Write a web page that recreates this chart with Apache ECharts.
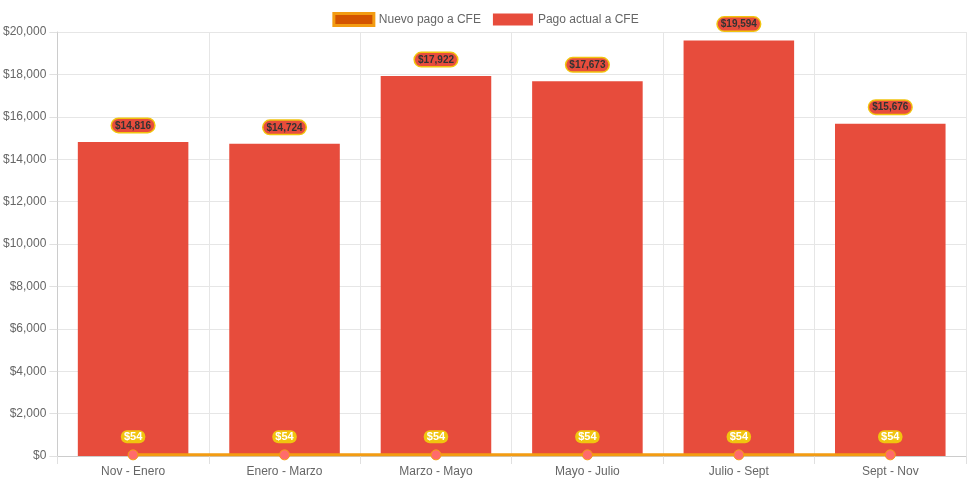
<!DOCTYPE html>
<html><head><meta charset="utf-8">
<script src="https://cdn.jsdelivr.net/npm/echarts@6/dist/echarts.min.js"></script>
<style>html,body{margin:0;padding:0;background:#fff}#c{width:971px;height:485px}</style>
</head><body><div id="c"></div>
<script>
const categories = ['Nov - Enero','Enero - Marzo','Marzo - Mayo','Mayo - Julio','Julio - Sept','Sept - Nov'];
const nuevoPago = [54,54,54,54,54,54];
const pagoActual = [14816,14724,17922,17673,19594,15676];
const seriesNames = ['Nuevo pago a CFE','Pago actual a CFE'];

const fmt = v => '$' + Number(v).toLocaleString('en-US');
const FONT = '"Liberation Sans", Arial, Helvetica, sans-serif';
const chart = echarts.init(document.getElementById('c'));
chart.setOption({
  animation:false,
  textStyle:{fontFamily:FONT},
  legend:{
    top:7, left:'center', itemWidth:40, itemHeight:12, itemGap:12,
    textStyle:{color:'#666', fontSize:12, fontFamily:FONT},
    data:[
      {name:seriesNames[0], icon:'rect', itemStyle:{color:'#d35400', borderColor:'#f39c12', borderWidth:3}},
      {name:seriesNames[1], icon:'rect', itemStyle:{color:'#e74c3c', borderWidth:0}}
    ]
  },
  grid:{left:57, right:5, top:32, bottom:29, containLabel:false},
  xAxis:{
    type:'category', data:categories, boundaryGap:true,
    axisLine:{lineStyle:{color:'#cccccc'}},
    axisTick:{show:true, length:8, alignWithLabel:false, lineStyle:{color:'#e0e0e0'}},
    axisLabel:{color:'#666', fontSize:12, margin:10, fontFamily:FONT},
    splitLine:{show:true, lineStyle:{color:'#e6e6e6'}}
  },
  yAxis:{
    type:'value', min:0, max:20000, interval:2000,
    axisLine:{show:true, lineStyle:{color:'#cccccc'}},
    axisTick:{show:true, length:8, lineStyle:{color:'#e0e0e0'}},
    axisLabel:{color:'#666', fontSize:12, margin:11, fontFamily:FONT, formatter:fmt},
    splitLine:{show:true, lineStyle:{color:'#e6e6e6'}}
  },
  series:[
    {
      name:seriesNames[1], type:'bar', data:pagoActual, barWidth:'73%', z:2,
      itemStyle:{color:'#e74c3c'},
      label:{show:true, position:'top', distance:10, formatter:p=>fmt(p.value),
        backgroundColor:'#e74c3c', borderColor:'#f1c40f', borderWidth:1.5, borderRadius:8,
        padding:[2,3,1,3], color:'#333', fontWeight:'bold', fontSize:10, fontFamily:FONT}
    },
    {
      name:seriesNames[0], type:'line', data:nuevoPago, z:5,
      lineStyle:{color:'#f39c12', width:3},
      symbol:'circle', symbolSize:10,
      itemStyle:{color:'#ff6b6b', borderColor:'#f39c12', borderWidth:1},
      label:{show:true, position:'top', distance:6, formatter:p=>fmt(p.value),
        backgroundColor:'#f1c40f', borderRadius:6, padding:[1,3,1,3],
        color:'#fff', fontWeight:'bold', fontSize:11, fontFamily:FONT}
    }
  ]
});
</script></body></html>
